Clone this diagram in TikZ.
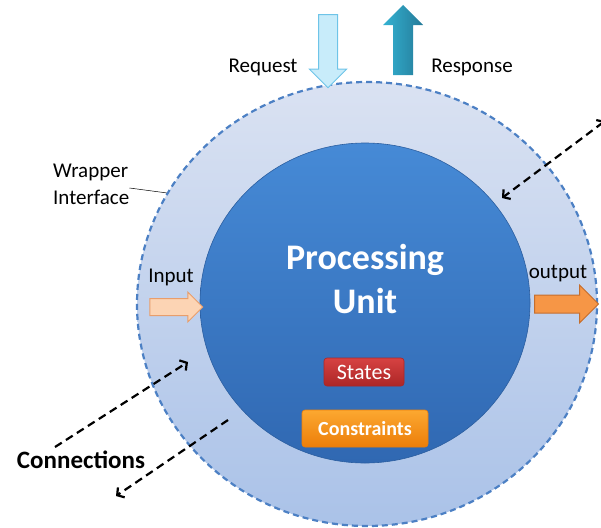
\documentclass[tikz,border=0pt]{standalone}
\usepackage{fontspec}
\setmainfont{Carlito}
\usetikzlibrary{arrows.meta,shapes.geometric,shapes.arrows}
\definecolor{ringtop}{RGB}{218,226,242}
\definecolor{ringbot}{RGB}{170,194,232}
\definecolor{ringline}{RGB}{76,128,196}
\definecolor{unittop}{RGB}{70,138,214}
\definecolor{unitbot}{RGB}{48,104,178}
\definecolor{reqfill}{RGB}{200,236,250}
\definecolor{reqline}{RGB}{110,196,232}
\definecolor{resptop}{RGB}{36,122,152}
\definecolor{respbot}{RGB}{52,178,210}
\definecolor{infill}{RGB}{252,212,180}
\definecolor{inline}{RGB}{232,158,108}
\definecolor{outfill}{RGB}{246,150,70}
\definecolor{outline}{RGB}{196,110,46}
\definecolor{statetop}{RGB}{214,66,66}
\definecolor{statebot}{RGB}{172,38,38}
\definecolor{constop}{RGB}{252,168,48}
\definecolor{consbot}{RGB}{236,126,10}
\tikzstyle{wrapring}=[ellipse,inner sep=0pt,minimum width=460pt,minimum height=444pt,top color=ringtop,bottom color=ringbot,draw=ringline,line width=2.2pt,dash pattern=on 6pt off 4pt]
\tikzstyle{unitdisc}=[ellipse,inner sep=0pt,minimum width=330pt,minimum height=320pt,top color=unittop,bottom color=unitbot,draw=unitbot!90!black,line width=0.6pt]
\tikzstyle{blockarrow}=[single arrow,inner xsep=0pt,line width=1pt]
\tikzstyle{tag}=[rounded corners=3pt,inner sep=0pt,text=white,line width=0.6pt]
\tikzstyle{label}=[anchor=base,font=\fontsize{21}{25}\selectfont,inner sep=0pt]
\tikzstyle{link}=[draw,line width=2.2pt,dash pattern=on 8pt off 5pt,{Straight Barb[length=5pt,width=12pt]}-{Straight Barb[length=5pt,width=12pt]}]
\tikzstyle{onelink}=[draw,line width=2.2pt,dash pattern=on 8pt off 5pt,-{Straight Barb[length=5pt,width=12pt]}]

\begin{document}
\begin{tikzpicture}[x=1pt,y=-1pt]
    \useasboundingbox (0,0) rectangle (601,527);
    \clip (0,0) rectangle (601,527);
    % Wrapper ring and the processing unit
    \node[wrapring] (wrap) at (367,304) {};
    \node[unitdisc] (unit) at (365,303) {};
    \node[inner sep=0pt,text=white,align=center,font=\bfseries\fontsize{36}{44}\selectfont] (title) at (365,279) {Processing\\Unit};
    \node[tag,top color=statetop,bottom color=statebot,draw=statebot,minimum width=80pt,minimum height=28pt,font=\fontsize{22}{26}\selectfont] (states) at (364,372) {States};
    \node[tag,top color=constop,bottom color=consbot,draw=consbot,minimum width=126pt,minimum height=37pt,font=\bfseries\fontsize{20}{24}\selectfont] (constraints) at (365,428.5) {Constraints};
    % Block arrows
    \node[blockarrow,fill=reqfill,draw=reqline,minimum height=73pt,inner ysep=9pt,single arrow head extend=9pt,rotate=270] (reqarrow) at (328,46.5) {};
    \node[blockarrow,left color=respbot,right color=resptop,draw=none,minimum height=70pt,inner ysep=9.5pt,single arrow head extend=10pt,rotate=90] (resparrow) at (403,45) {};
    \node[blockarrow,fill=infill,draw=inline,minimum height=53pt,inner ysep=8pt,single arrow head extend=6.5pt] (inarrow) at (172,307) {};
    \node[blockarrow,fill=outfill,draw=outline,minimum height=64pt,inner ysep=8.5pt,single arrow head extend=10pt] (outarrow) at (562,304) {};
    % Labels
    \foreach \pos/\name/\txt in {{(263,72)/request/Request}, {(472,72)/response/Response}, {(171,282)/input/Input}, {(558,278)/output/output}}
        \node[label] (\name) at \pos {\txt};
    \node[inner sep=0pt,anchor=west,align=left,font=\fontsize{21}{27}\selectfont] (wrapper) at (53,184) {Wrapper\\Interface};
    \node[label,font=\bfseries\fontsize{25}{29}\selectfont] (connections) at (81,468) {Connections};
    \draw[line width=0.5pt] ([yshift=-4pt]wrapper.east) -- (wrap.151);
    % Connection arrows
    \coordinate (linkA) at (55,447);
    \coordinate (linkAend) at (188,362);
    \coordinate (linkB) at (228,420);
    \coordinate (linkBend) at (116,496);
    \coordinate (linkC) at (605,121);
    \coordinate (linkCend) at (502,198);
    \path[onelink] (linkA) -- (linkAend);
    \path[onelink] (linkB) -- (linkBend);
    \path[link] (linkC) -- (linkCend);
\end{tikzpicture}
\end{document}
